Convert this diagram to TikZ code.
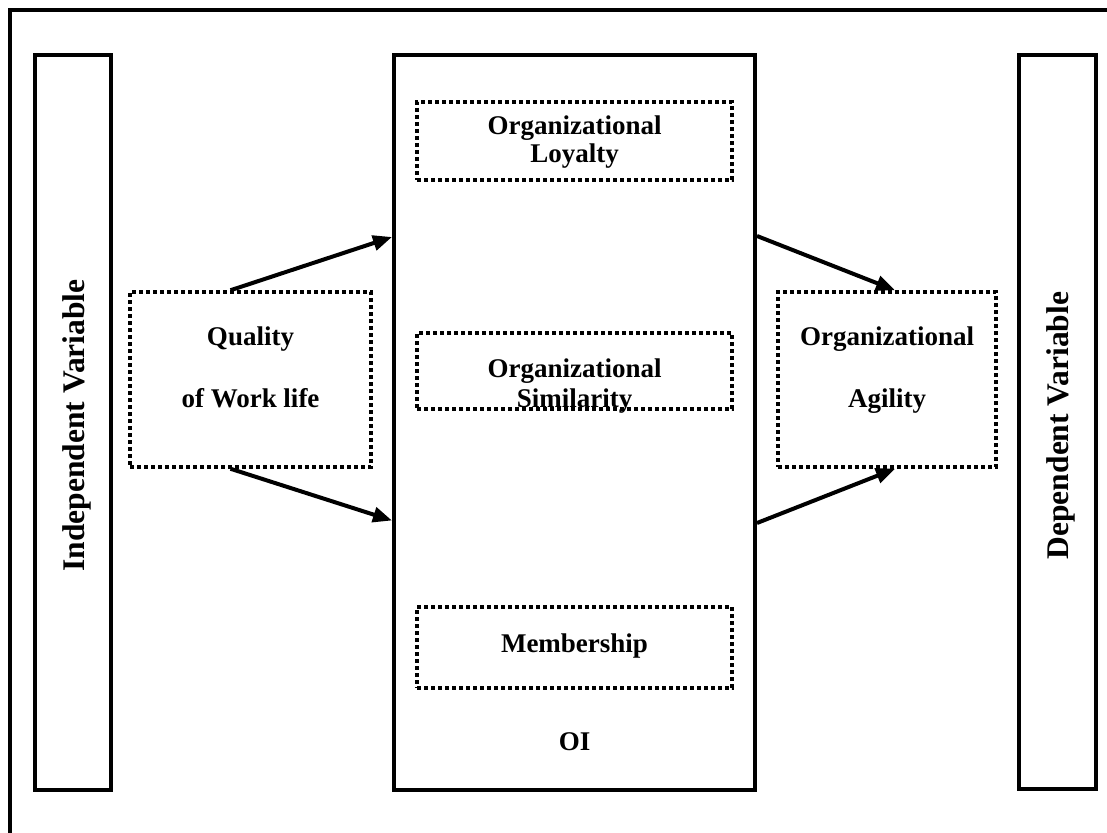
\documentclass[tikz,border=0pt]{standalone}
\usepackage{fontspec}
\setmainfont{Liberation Serif}
\usetikzlibrary{arrows.meta}
\begin{document}
\begin{tikzpicture}[x=1pt,y=-1pt,
  frame/.style={draw,line width=4pt,rectangle,inner sep=0pt},
  dotbox/.style={draw,line width=3.5pt,dash pattern=on 3.6pt off 3.4pt,rectangle,inner sep=0pt},
  lbl/.style={font=\bfseries\fontsize{27}{32}\selectfont,inner sep=0pt,anchor=base},
  vlbl/.style={font=\bfseries\fontsize{31.5}{36}\selectfont,rotate=90,inner sep=0pt},
  link/.style={line width=4pt,-{Triangle[length=19pt,width=15pt]}}]
\useasboundingbox (0,0) rectangle (1107,832);
\fill[white] (0,0) rectangle (1107,832);

% outer frame (top and left edges only)
\draw[line width=4pt] (10,834) -- (10,10) -- (1109,10);

% variable columns
\node[frame,minimum width=76pt,minimum height=735pt] (indep) at (73,422.5) {};
\node[vlbl] (indeptxt) at (77,425.5) {Independent Variable};
\node[frame,minimum width=77pt,minimum height=734pt] (dep) at (1057.5,422) {};
\node[vlbl] (deptxt) at (1061,425.5) {Dependent Variable};

% mediator block
\node[frame,minimum width=361pt,minimum height=735pt] (oi) at (574.5,422.5) {};
\node[dotbox,minimum width=315pt,minimum height=78pt] (loyal) at (574.5,141) {};
\node[lbl] (loyal1) at (574.5,135) {Organizational};
\node[lbl] (loyal2) at (574.5,162) {Loyalty};
\node[dotbox,minimum width=315pt,minimum height=76pt] (simil) at (574.5,371) {};
\node[lbl] (simil1) at (574.5,377) {Organizational};
\node[lbl] (simil2) at (574.5,407) {Similarity};
\node[dotbox,minimum width=315pt,minimum height=81pt] (member) at (574.5,647.5) {};
\node[lbl] (member1) at (574.5,652) {Membership};
\node[lbl] (oitxt) at (574.5,750) {OI};

% independent and dependent constructs
\node[dotbox,minimum width=241pt,minimum height=175pt] (quality) at (250.5,379.5) {};
\node[lbl] (quality1) at (250.5,345) {Quality};
\node[lbl] (quality2) at (250.5,407) {of Work life};
\node[dotbox,minimum width=218pt,minimum height=175pt] (agility) at (887,379.5) {};
\node[lbl] (agility1) at (887,345) {Organizational};
\node[lbl] (agility2) at (887,407) {Agility};

% connectors
\draw[link] ([xshift=-20pt]quality.north) -- ([yshift=185.5pt]oi.west);
\draw[link] ([xshift=-20pt]quality.south) -- ([yshift=-98pt]oi.west);
\draw[link] ([yshift=186.5pt]oi.east) -- ([xshift=8pt]agility.north);
\draw[link] ([yshift=-100.5pt]oi.east) -- ([xshift=8pt]agility.south);
\end{tikzpicture}
\end{document}
